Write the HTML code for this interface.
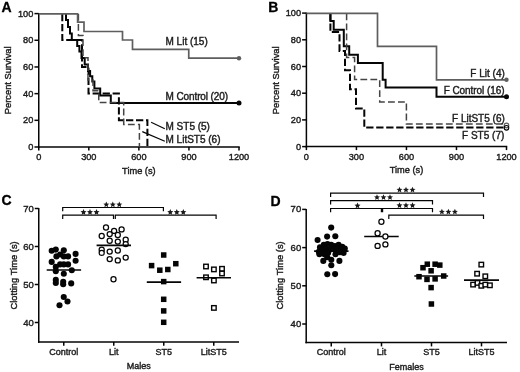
<!DOCTYPE html>
<html><head><meta charset="utf-8"><style>
html,body{margin:0;padding:0;background:#fff;width:520px;height:372px;overflow:hidden;}
svg{display:block;will-change:transform;font-family:"Liberation Sans",sans-serif;}
</style></head><body>
<svg width="520" height="372" viewBox="0 0 520 372" font-family="Liberation Sans, sans-serif">
<rect width="520" height="372" fill="#fff"/>
<line x1="38.75" y1="13.1" x2="38.75" y2="147.75" stroke="#050505" stroke-width="1.5"/>
<line x1="38.0" y1="147" x2="239.75" y2="147" stroke="#050505" stroke-width="1.5"/>
<line x1="34.45" y1="147.0" x2="38.75" y2="147.0" stroke="#050505" stroke-width="1.5"/>
<text x="33.35" y="150.1" font-size="9.2" text-anchor="end" font-weight="normal" fill="#1c1c1c" stroke="#1c1c1c" stroke-width="0.4" >0</text>
<line x1="34.45" y1="120.32" x2="38.75" y2="120.32" stroke="#050505" stroke-width="1.5"/>
<text x="33.35" y="123.41999999999999" font-size="9.2" text-anchor="end" font-weight="normal" fill="#1c1c1c" stroke="#1c1c1c" stroke-width="0.4" >20</text>
<line x1="34.45" y1="93.64" x2="38.75" y2="93.64" stroke="#050505" stroke-width="1.5"/>
<text x="33.35" y="96.74" font-size="9.2" text-anchor="end" font-weight="normal" fill="#1c1c1c" stroke="#1c1c1c" stroke-width="0.4" >40</text>
<line x1="34.45" y1="66.96" x2="38.75" y2="66.96" stroke="#050505" stroke-width="1.5"/>
<text x="33.35" y="70.05999999999999" font-size="9.2" text-anchor="end" font-weight="normal" fill="#1c1c1c" stroke="#1c1c1c" stroke-width="0.4" >60</text>
<line x1="34.45" y1="40.28" x2="38.75" y2="40.28" stroke="#050505" stroke-width="1.5"/>
<text x="33.35" y="43.38" font-size="9.2" text-anchor="end" font-weight="normal" fill="#1c1c1c" stroke="#1c1c1c" stroke-width="0.4" >80</text>
<line x1="34.45" y1="13.599999999999994" x2="38.75" y2="13.599999999999994" stroke="#050505" stroke-width="1.5"/>
<text x="33.35" y="16.699999999999996" font-size="9.2" text-anchor="end" font-weight="normal" fill="#1c1c1c" stroke="#1c1c1c" stroke-width="0.4" >100</text>
<line x1="38.75" y1="147" x2="38.75" y2="150.5" stroke="#050505" stroke-width="1.5"/>
<text x="38.75" y="160.1" font-size="9.2" text-anchor="middle" font-weight="normal" fill="#1c1c1c" stroke="#1c1c1c" stroke-width="0.4" >0</text>
<line x1="88.8125" y1="147" x2="88.8125" y2="150.5" stroke="#050505" stroke-width="1.5"/>
<text x="88.8125" y="160.1" font-size="9.2" text-anchor="middle" font-weight="normal" fill="#1c1c1c" stroke="#1c1c1c" stroke-width="0.4" >300</text>
<line x1="138.875" y1="147" x2="138.875" y2="150.5" stroke="#050505" stroke-width="1.5"/>
<text x="138.875" y="160.1" font-size="9.2" text-anchor="middle" font-weight="normal" fill="#1c1c1c" stroke="#1c1c1c" stroke-width="0.4" >600</text>
<line x1="188.9375" y1="147" x2="188.9375" y2="150.5" stroke="#050505" stroke-width="1.5"/>
<text x="188.9375" y="160.1" font-size="9.2" text-anchor="middle" font-weight="normal" fill="#1c1c1c" stroke="#1c1c1c" stroke-width="0.4" >900</text>
<line x1="239.0" y1="147" x2="239.0" y2="150.5" stroke="#050505" stroke-width="1.5"/>
<text x="239.0" y="160.1" font-size="9.2" text-anchor="middle" font-weight="normal" fill="#1c1c1c" stroke="#1c1c1c" stroke-width="0.4" >1200</text>
<text x="138.875" y="173.7" font-size="9.25" text-anchor="middle" font-weight="normal" fill="#1c1c1c" stroke="#1c1c1c" stroke-width="0.4" >Time (s)</text>
<text x="0" y="0" font-size="9.3" text-anchor="middle" fill="#1c1c1c" stroke="#1c1c1c" stroke-width="0.4" transform="translate(11.4,80.3) rotate(-90)">Percent Survival</text>
<text x="1.4" y="12.0" font-size="14" text-anchor="start" font-weight="bold" fill="#000" stroke="#000" stroke-width="0.3">A</text>
<path d="M66.00,13.90 L66.00,20.00 L68.00,20.00 L68.00,27.00 L70.00,27.00 L70.00,33.50 L71.80,33.50 L71.80,40.00 L77.20,40.00 L77.20,46.10 L79.40,46.10 L79.40,51.50 L81.50,51.50 L81.50,58.00 L84.70,58.00 L84.70,64.40 L88.00,64.40 L88.00,70.90 L90.10,70.90 L90.10,76.20 L92.30,76.20 L92.30,81.60 L94.40,81.60 L94.40,88.50 L100.20,88.50 L100.20,95.50 L110.80,95.50 L110.80,102.90 L239.00,102.90" fill="none" stroke="#050505" stroke-width="2.0" stroke-linejoin="miter" stroke-linecap="butt"/>
<path d="M62.30,13.90 L62.30,40.00 L82.00,40.00 L82.00,67.00 L88.50,67.00 L88.50,93.60 L118.90,93.60 L118.90,120.20 L147.40,120.20 L147.40,147.00" fill="none" stroke="#050505" stroke-width="2.0" stroke-dasharray="7.3,2.7" stroke-linejoin="miter" stroke-linecap="butt"/>
<path d="M78.40,13.90 L78.40,35.40 L83.00,35.40 L83.00,57.70 L88.00,57.70 L88.00,80.00 L93.00,80.00 L93.00,90.70 L98.75,90.70 L98.75,102.60 L123.70,102.60 L123.70,124.40 L139.40,124.40 L139.40,147.00" fill="none" stroke="#444" stroke-width="1.5" stroke-dasharray="6.8,3.2" stroke-linejoin="miter" stroke-linecap="butt"/>
<path d="M38.75,13.90 L77.60,13.90 L77.60,22.20 L84.00,22.20 L84.00,31.50 L122.50,31.50 L122.50,40.00 L132.50,40.00 L132.50,49.30 L188.75,49.30 L188.75,58.20 L239.00,58.20" fill="none" stroke="#5e5e5e" stroke-width="1.7" stroke-linejoin="miter" stroke-linecap="butt"/>
<circle cx="239" cy="58.2" r="2.2" fill="#5e5e5e"/>
<circle cx="239" cy="102.9" r="2.5" fill="#050505"/>
<text x="165.5" y="45" font-size="10" text-anchor="start" font-weight="normal" fill="#1c1c1c" stroke="#1c1c1c" stroke-width="0.4" >M Lit (15)</text>
<text x="165.5" y="99.5" font-size="10" text-anchor="start" font-weight="normal" fill="#1c1c1c" stroke="#1c1c1c" stroke-width="0.4" letter-spacing="-0.1">M Control (20)</text>
<text x="165.5" y="130.3" font-size="10" text-anchor="start" font-weight="normal" fill="#1c1c1c" stroke="#1c1c1c" stroke-width="0.4" >M ST5 (5)</text>
<text x="165.5" y="143.3" font-size="10" text-anchor="start" font-weight="normal" fill="#1c1c1c" stroke="#1c1c1c" stroke-width="0.4" >M LitST5 (6)</text>
<line x1="151.1" y1="122.3" x2="164.8" y2="128.7" stroke="#050505" stroke-width="1.2"/>
<line x1="142.3" y1="131.6" x2="164.8" y2="141.3" stroke="#050505" stroke-width="1.2"/>
<line x1="306.4" y1="12.6" x2="306.4" y2="147.35" stroke="#050505" stroke-width="1.5"/>
<line x1="305.65" y1="146.6" x2="507.25" y2="146.6" stroke="#050505" stroke-width="1.5"/>
<line x1="302.09999999999997" y1="146.6" x2="306.4" y2="146.6" stroke="#050505" stroke-width="1.5"/>
<text x="301.0" y="149.7" font-size="9.2" text-anchor="end" font-weight="normal" fill="#1c1c1c" stroke="#1c1c1c" stroke-width="0.4" >0</text>
<line x1="302.09999999999997" y1="119.89999999999999" x2="306.4" y2="119.89999999999999" stroke="#050505" stroke-width="1.5"/>
<text x="301.0" y="122.99999999999999" font-size="9.2" text-anchor="end" font-weight="normal" fill="#1c1c1c" stroke="#1c1c1c" stroke-width="0.4" >20</text>
<line x1="302.09999999999997" y1="93.19999999999999" x2="306.4" y2="93.19999999999999" stroke="#050505" stroke-width="1.5"/>
<text x="301.0" y="96.29999999999998" font-size="9.2" text-anchor="end" font-weight="normal" fill="#1c1c1c" stroke="#1c1c1c" stroke-width="0.4" >40</text>
<line x1="302.09999999999997" y1="66.5" x2="306.4" y2="66.5" stroke="#050505" stroke-width="1.5"/>
<text x="301.0" y="69.6" font-size="9.2" text-anchor="end" font-weight="normal" fill="#1c1c1c" stroke="#1c1c1c" stroke-width="0.4" >60</text>
<line x1="302.09999999999997" y1="39.8" x2="306.4" y2="39.8" stroke="#050505" stroke-width="1.5"/>
<text x="301.0" y="42.9" font-size="9.2" text-anchor="end" font-weight="normal" fill="#1c1c1c" stroke="#1c1c1c" stroke-width="0.4" >80</text>
<line x1="302.09999999999997" y1="13.099999999999994" x2="306.4" y2="13.099999999999994" stroke="#050505" stroke-width="1.5"/>
<text x="301.0" y="16.199999999999996" font-size="9.2" text-anchor="end" font-weight="normal" fill="#1c1c1c" stroke="#1c1c1c" stroke-width="0.4" >100</text>
<line x1="306.4" y1="146.6" x2="306.4" y2="150.1" stroke="#050505" stroke-width="1.5"/>
<text x="306.4" y="160.1" font-size="9.2" text-anchor="middle" font-weight="normal" fill="#1c1c1c" stroke="#1c1c1c" stroke-width="0.4" >0</text>
<line x1="356.42499999999995" y1="146.6" x2="356.42499999999995" y2="150.1" stroke="#050505" stroke-width="1.5"/>
<text x="356.42499999999995" y="160.1" font-size="9.2" text-anchor="middle" font-weight="normal" fill="#1c1c1c" stroke="#1c1c1c" stroke-width="0.4" >300</text>
<line x1="406.45" y1="146.6" x2="406.45" y2="150.1" stroke="#050505" stroke-width="1.5"/>
<text x="406.45" y="160.1" font-size="9.2" text-anchor="middle" font-weight="normal" fill="#1c1c1c" stroke="#1c1c1c" stroke-width="0.4" >600</text>
<line x1="456.475" y1="146.6" x2="456.475" y2="150.1" stroke="#050505" stroke-width="1.5"/>
<text x="456.475" y="160.1" font-size="9.2" text-anchor="middle" font-weight="normal" fill="#1c1c1c" stroke="#1c1c1c" stroke-width="0.4" >900</text>
<line x1="506.5" y1="146.6" x2="506.5" y2="150.1" stroke="#050505" stroke-width="1.5"/>
<text x="506.5" y="160.1" font-size="9.2" text-anchor="middle" font-weight="normal" fill="#1c1c1c" stroke="#1c1c1c" stroke-width="0.4" >1200</text>
<text x="406.45" y="173.29999999999998" font-size="9.25" text-anchor="middle" font-weight="normal" fill="#1c1c1c" stroke="#1c1c1c" stroke-width="0.4" >Time (s)</text>
<text x="0" y="0" font-size="9.3" text-anchor="middle" fill="#1c1c1c" stroke="#1c1c1c" stroke-width="0.4" transform="translate(278.7,80.3) rotate(-90)">Percent Survival</text>
<text x="268.3" y="12.2" font-size="14" text-anchor="start" font-weight="bold" fill="#000" stroke="#000" stroke-width="0.3">B</text>
<path d="M330.40,13.40 L330.40,21.00 L333.70,21.00 L333.70,29.70 L343.80,29.70 L343.80,46.30 L349.20,46.30 L349.20,54.70 L357.90,54.70 L357.90,63.00 L382.70,63.00 L382.70,79.70 L385.60,79.70 L385.60,87.60 L436.50,87.60 L436.50,96.70 L506.50,96.70" fill="none" stroke="#050505" stroke-width="2.0" stroke-linejoin="miter" stroke-linecap="butt"/>
<path d="M330.40,13.40 L330.40,32.00 L339.50,32.00 L339.50,51.00 L345.00,51.00 L345.00,70.20 L350.00,70.20 L350.00,89.30 L356.00,89.30 L356.00,108.40 L364.30,108.40 L364.30,127.60 L506.50,127.60" fill="none" stroke="#050505" stroke-width="2.0" stroke-dasharray="7.3,2.7" stroke-linejoin="miter" stroke-linecap="butt"/>
<path d="M346.60,13.40 L346.60,57.50 L354.60,57.50 L354.60,79.60 L379.70,79.60 L379.70,102.00 L406.40,102.00 L406.40,124.10 L506.50,124.10" fill="none" stroke="#444" stroke-width="1.5" stroke-dasharray="6.8,3.2" stroke-linejoin="miter" stroke-linecap="butt"/>
<path d="M306.40,13.40 L377.50,13.40 L377.50,46.30 L436.50,46.30 L436.50,79.80 L506.50,79.80" fill="none" stroke="#5e5e5e" stroke-width="1.7" stroke-linejoin="miter" stroke-linecap="butt"/>
<circle cx="506.5" cy="79.8" r="2.2" fill="#5e5e5e"/>
<circle cx="506.5" cy="96.7" r="2.5" fill="#050505"/>
<circle cx="506.5" cy="125.4" r="2.3" fill="#fff" stroke="#5e5e5e" stroke-width="1.1"/>
<circle cx="506.5" cy="127.8" r="2.3" fill="none" stroke="#050505" stroke-width="1.1"/>
<text x="504.8" y="76.6" font-size="10" text-anchor="end" font-weight="normal" fill="#1c1c1c" stroke="#1c1c1c" stroke-width="0.4" >F Lit (4)</text>
<text x="504.5" y="93.9" font-size="10" text-anchor="end" font-weight="normal" fill="#1c1c1c" stroke="#1c1c1c" stroke-width="0.4" letter-spacing="-0.06">F Control (16)</text>
<text x="504.8" y="121.8" font-size="10" text-anchor="end" font-weight="normal" fill="#1c1c1c" stroke="#1c1c1c" stroke-width="0.4" >F LitST5 (6)</text>
<text x="504.3" y="139.4" font-size="10" text-anchor="end" font-weight="normal" fill="#1c1c1c" stroke="#1c1c1c" stroke-width="0.4" >F ST5 (7)</text>
<line x1="38.75" y1="208.0" x2="38.75" y2="342.65" stroke="#050505" stroke-width="1.5"/>
<line x1="38.0" y1="341.9" x2="239" y2="341.9" stroke="#050505" stroke-width="1.5"/>
<line x1="34.75" y1="322.5" x2="38.75" y2="322.5" stroke="#050505" stroke-width="1.5"/>
<text x="33.75" y="325.5" font-size="9.5" text-anchor="end" font-weight="normal" fill="#1c1c1c" stroke="#1c1c1c" stroke-width="0.4" >40</text>
<line x1="34.75" y1="284.5" x2="38.75" y2="284.5" stroke="#050505" stroke-width="1.5"/>
<text x="33.75" y="287.5" font-size="9.5" text-anchor="end" font-weight="normal" fill="#1c1c1c" stroke="#1c1c1c" stroke-width="0.4" >50</text>
<line x1="34.75" y1="246.5" x2="38.75" y2="246.5" stroke="#050505" stroke-width="1.5"/>
<text x="33.75" y="249.5" font-size="9.5" text-anchor="end" font-weight="normal" fill="#1c1c1c" stroke="#1c1c1c" stroke-width="0.4" >60</text>
<line x1="34.75" y1="208.5" x2="38.75" y2="208.5" stroke="#050505" stroke-width="1.5"/>
<text x="33.75" y="211.5" font-size="9.5" text-anchor="end" font-weight="normal" fill="#1c1c1c" stroke="#1c1c1c" stroke-width="0.4" >70</text>
<line x1="63.75" y1="341.9" x2="63.75" y2="345.79999999999995" stroke="#050505" stroke-width="1.5"/>
<text x="63.75" y="354.59999999999997" font-size="9" text-anchor="middle" font-weight="normal" fill="#1c1c1c" stroke="#1c1c1c" stroke-width="0.4" >Control</text>
<line x1="113.75" y1="341.9" x2="113.75" y2="345.79999999999995" stroke="#050505" stroke-width="1.5"/>
<text x="113.75" y="354.59999999999997" font-size="9" text-anchor="middle" font-weight="normal" fill="#1c1c1c" stroke="#1c1c1c" stroke-width="0.4" >Lit</text>
<line x1="163.75" y1="341.9" x2="163.75" y2="345.79999999999995" stroke="#050505" stroke-width="1.5"/>
<text x="163.75" y="354.59999999999997" font-size="9" text-anchor="middle" font-weight="normal" fill="#1c1c1c" stroke="#1c1c1c" stroke-width="0.4" >ST5</text>
<line x1="213.75" y1="341.9" x2="213.75" y2="345.79999999999995" stroke="#050505" stroke-width="1.5"/>
<text x="213.75" y="354.59999999999997" font-size="9" text-anchor="middle" font-weight="normal" fill="#1c1c1c" stroke="#1c1c1c" stroke-width="0.4" >LitST5</text>
<text x="138.875" y="369.09999999999997" font-size="9" text-anchor="middle" font-weight="normal" fill="#1c1c1c" stroke="#1c1c1c" stroke-width="0.4" >Males</text>
<text x="0" y="0" font-size="9.4" text-anchor="middle" fill="#1c1c1c" stroke="#1c1c1c" stroke-width="0.4" transform="translate(16.5,275.4) rotate(-90)">Clotting Time (s)</text>
<text x="1.6" y="204.9" font-size="14" text-anchor="start" font-weight="bold" fill="#000" stroke="#000" stroke-width="0.3">C</text>
<path d="M62.7,211.3 L62.7,207.5 L163.4,207.5 L163.4,211.3" fill="none" stroke="#050505" stroke-width="1.2"/>
<path d="M62.7,219.0 L62.7,215.2 L113.5,215.2 L113.5,219.0" fill="none" stroke="#050505" stroke-width="1.2"/>
<path d="M115.3,218.9 L115.3,215.1 L216.1,215.1 L216.1,218.9" fill="none" stroke="#050505" stroke-width="1.2"/>
<polygon points="106.30,201.45 107.15,203.43 109.30,203.63 107.68,205.05 108.15,207.15 106.30,206.05 104.45,207.15 104.92,205.05 103.30,203.63 105.45,203.43" fill="#1a1a1a"/>
<polygon points="112.80,201.45 113.65,203.43 115.80,203.63 114.18,205.05 114.65,207.15 112.80,206.05 110.95,207.15 111.42,205.05 109.80,203.63 111.95,203.43" fill="#1a1a1a"/>
<polygon points="119.30,201.45 120.15,203.43 122.30,203.63 120.68,205.05 121.15,207.15 119.30,206.05 117.45,207.15 117.92,205.05 116.30,203.63 118.45,203.43" fill="#1a1a1a"/>
<polygon points="83.50,209.05 84.35,211.03 86.50,211.23 84.88,212.65 85.35,214.75 83.50,213.65 81.65,214.75 82.12,212.65 80.50,211.23 82.65,211.03" fill="#1a1a1a"/>
<polygon points="90.00,209.05 90.85,211.03 93.00,211.23 91.38,212.65 91.85,214.75 90.00,213.65 88.15,214.75 88.62,212.65 87.00,211.23 89.15,211.03" fill="#1a1a1a"/>
<polygon points="96.50,209.05 97.35,211.03 99.50,211.23 97.88,212.65 98.35,214.75 96.50,213.65 94.65,214.75 95.12,212.65 93.50,211.23 95.65,211.03" fill="#1a1a1a"/>
<polygon points="170.30,209.05 171.15,211.03 173.30,211.23 171.68,212.65 172.15,214.75 170.30,213.65 168.45,214.75 168.92,212.65 167.30,211.23 169.45,211.03" fill="#1a1a1a"/>
<polygon points="176.80,209.05 177.65,211.03 179.80,211.23 178.18,212.65 178.65,214.75 176.80,213.65 174.95,214.75 175.42,212.65 173.80,211.23 175.95,211.03" fill="#1a1a1a"/>
<polygon points="183.30,209.05 184.15,211.03 186.30,211.23 184.68,212.65 185.15,214.75 183.30,213.65 181.45,214.75 181.92,212.65 180.30,211.23 182.45,211.03" fill="#1a1a1a"/>
<line x1="46.7" y1="270" x2="81.1" y2="270" stroke="#050505" stroke-width="1.6"/>
<circle cx="51.7" cy="250.8" r="3.05" fill="#050505"/>
<circle cx="55.8" cy="249.6" r="3.05" fill="#050505"/>
<circle cx="63.8" cy="250.2" r="3.05" fill="#050505"/>
<circle cx="75.6" cy="253.9" r="3.05" fill="#050505"/>
<circle cx="56.4" cy="256.4" r="3.05" fill="#050505"/>
<circle cx="60.1" cy="254.5" r="3.05" fill="#050505"/>
<circle cx="63.8" cy="256.4" r="3.05" fill="#050505"/>
<circle cx="68.1" cy="256.4" r="3.05" fill="#050505"/>
<circle cx="75.6" cy="260.7" r="3.05" fill="#050505"/>
<circle cx="51.7" cy="261.9" r="3.05" fill="#050505"/>
<circle cx="60.1" cy="264.4" r="3.05" fill="#050505"/>
<circle cx="63.8" cy="264.4" r="3.05" fill="#050505"/>
<circle cx="68.1" cy="264.4" r="3.05" fill="#050505"/>
<circle cx="55.8" cy="266.9" r="3.05" fill="#050505"/>
<circle cx="55.8" cy="271.2" r="3.05" fill="#050505"/>
<circle cx="63.8" cy="273.7" r="3.05" fill="#050505"/>
<circle cx="71.8" cy="270.2" r="3.05" fill="#050505"/>
<circle cx="55.8" cy="279.9" r="3.05" fill="#050505"/>
<circle cx="55.8" cy="283" r="3.05" fill="#050505"/>
<circle cx="63.2" cy="281.7" r="3.05" fill="#050505"/>
<circle cx="63.2" cy="284.2" r="3.05" fill="#050505"/>
<circle cx="71.2" cy="283.4" r="3.05" fill="#050505"/>
<circle cx="63.75" cy="297" r="3.05" fill="#050505"/>
<circle cx="67.5" cy="301.5" r="3.05" fill="#050505"/>
<circle cx="59.5" cy="305.25" r="3.05" fill="#050505"/>
<circle cx="106" cy="227.5" r="2.55" fill="#fff" stroke="#050505" stroke-width="1.25"/>
<circle cx="114.1" cy="230.9" r="2.55" fill="#fff" stroke="#050505" stroke-width="1.25"/>
<circle cx="121.6" cy="229.4" r="2.55" fill="#fff" stroke="#050505" stroke-width="1.25"/>
<circle cx="101.7" cy="236" r="2.55" fill="#fff" stroke="#050505" stroke-width="1.25"/>
<circle cx="109.7" cy="234.1" r="2.55" fill="#fff" stroke="#050505" stroke-width="1.25"/>
<circle cx="117.8" cy="235" r="2.55" fill="#fff" stroke="#050505" stroke-width="1.25"/>
<circle cx="109.7" cy="240.7" r="2.55" fill="#fff" stroke="#050505" stroke-width="1.25"/>
<circle cx="117.8" cy="241.6" r="2.55" fill="#fff" stroke="#050505" stroke-width="1.25"/>
<circle cx="125.7" cy="239.7" r="2.55" fill="#fff" stroke="#050505" stroke-width="1.25"/>
<circle cx="125.7" cy="244.1" r="2.55" fill="#fff" stroke="#050505" stroke-width="1.25"/>
<circle cx="101.7" cy="249.7" r="2.55" fill="#fff" stroke="#050505" stroke-width="1.25"/>
<circle cx="101.7" cy="252.9" r="2.55" fill="#fff" stroke="#050505" stroke-width="1.25"/>
<circle cx="109.7" cy="251.6" r="2.55" fill="#fff" stroke="#050505" stroke-width="1.25"/>
<circle cx="117.8" cy="250.5" r="2.55" fill="#fff" stroke="#050505" stroke-width="1.25"/>
<circle cx="109.7" cy="259.1" r="2.55" fill="#fff" stroke="#050505" stroke-width="1.25"/>
<circle cx="117.8" cy="260.4" r="2.55" fill="#fff" stroke="#050505" stroke-width="1.25"/>
<circle cx="125.7" cy="257.6" r="2.55" fill="#fff" stroke="#050505" stroke-width="1.25"/>
<circle cx="113.5" cy="279.2" r="2.55" fill="#fff" stroke="#050505" stroke-width="1.25"/>
<line x1="96.6" y1="245.4" x2="131" y2="245.4" stroke="#050505" stroke-width="1.6"/>
<rect x="160.95" y="252.25" width="5.5" height="5.5" fill="#050505"/>
<rect x="148.85" y="262.85" width="5.5" height="5.5" fill="#050505"/>
<rect x="173.05" y="260.95" width="5.5" height="5.5" fill="#050505"/>
<rect x="157.05" y="267.45" width="5.5" height="5.5" fill="#050505"/>
<rect x="165.05" y="266.75" width="5.5" height="5.5" fill="#050505"/>
<rect x="160.95" y="278.85" width="5.5" height="5.5" fill="#050505"/>
<rect x="160.95" y="296.55" width="5.5" height="5.5" fill="#050505"/>
<rect x="160.95" y="308.15" width="5.5" height="5.5" fill="#050505"/>
<rect x="160.95" y="319.55" width="5.5" height="5.5" fill="#050505"/>
<line x1="146.8" y1="282.1" x2="181.1" y2="282.1" stroke="#050505" stroke-width="1.6"/>
<rect x="203.75" y="264.25" width="4.5" height="4.5" fill="#fff" stroke="#050505" stroke-width="1.4"/>
<rect x="211.65" y="267.15" width="4.5" height="4.5" fill="#fff" stroke="#050505" stroke-width="1.4"/>
<rect x="219.75" y="266.55" width="4.5" height="4.5" fill="#fff" stroke="#050505" stroke-width="1.4"/>
<rect x="219.75" y="271.25" width="4.5" height="4.5" fill="#fff" stroke="#050505" stroke-width="1.4"/>
<rect x="203.75" y="275.05" width="4.5" height="4.5" fill="#fff" stroke="#050505" stroke-width="1.4"/>
<rect x="211.65" y="278.25" width="4.5" height="4.5" fill="#fff" stroke="#050505" stroke-width="1.4"/>
<rect x="211.65" y="305.65" width="4.5" height="4.5" fill="#fff" stroke="#050505" stroke-width="1.4"/>
<line x1="196.6" y1="277.8" x2="231" y2="277.8" stroke="#050505" stroke-width="1.6"/>
<line x1="306.2" y1="208.9" x2="306.2" y2="343.25" stroke="#050505" stroke-width="1.5"/>
<line x1="305.45" y1="342.5" x2="507" y2="342.5" stroke="#050505" stroke-width="1.5"/>
<line x1="302.2" y1="324.0" x2="306.2" y2="324.0" stroke="#050505" stroke-width="1.5"/>
<text x="301.2" y="327.0" font-size="9.5" text-anchor="end" font-weight="normal" fill="#1c1c1c" stroke="#1c1c1c" stroke-width="0.4" >40</text>
<line x1="302.2" y1="285.8" x2="306.2" y2="285.8" stroke="#050505" stroke-width="1.5"/>
<text x="301.2" y="288.8" font-size="9.5" text-anchor="end" font-weight="normal" fill="#1c1c1c" stroke="#1c1c1c" stroke-width="0.4" >50</text>
<line x1="302.2" y1="247.6" x2="306.2" y2="247.6" stroke="#050505" stroke-width="1.5"/>
<text x="301.2" y="250.6" font-size="9.5" text-anchor="end" font-weight="normal" fill="#1c1c1c" stroke="#1c1c1c" stroke-width="0.4" >60</text>
<line x1="302.2" y1="209.4" x2="306.2" y2="209.4" stroke="#050505" stroke-width="1.5"/>
<text x="301.2" y="212.4" font-size="9.5" text-anchor="end" font-weight="normal" fill="#1c1c1c" stroke="#1c1c1c" stroke-width="0.4" >70</text>
<line x1="331.25" y1="342.5" x2="331.25" y2="346.4" stroke="#050505" stroke-width="1.5"/>
<text x="331.25" y="355.2" font-size="9" text-anchor="middle" font-weight="normal" fill="#1c1c1c" stroke="#1c1c1c" stroke-width="0.4" >Control</text>
<line x1="381.5" y1="342.5" x2="381.5" y2="346.4" stroke="#050505" stroke-width="1.5"/>
<text x="381.5" y="355.2" font-size="9" text-anchor="middle" font-weight="normal" fill="#1c1c1c" stroke="#1c1c1c" stroke-width="0.4" >Lit</text>
<line x1="431.5" y1="342.5" x2="431.5" y2="346.4" stroke="#050505" stroke-width="1.5"/>
<text x="431.5" y="355.2" font-size="9" text-anchor="middle" font-weight="normal" fill="#1c1c1c" stroke="#1c1c1c" stroke-width="0.4" >ST5</text>
<line x1="481.5" y1="342.5" x2="481.5" y2="346.4" stroke="#050505" stroke-width="1.5"/>
<text x="481.5" y="355.2" font-size="9" text-anchor="middle" font-weight="normal" fill="#1c1c1c" stroke="#1c1c1c" stroke-width="0.4" >LitST5</text>
<text x="406.6" y="369.7" font-size="9" text-anchor="middle" font-weight="normal" fill="#1c1c1c" stroke="#1c1c1c" stroke-width="0.4" >Females</text>
<text x="0" y="0" font-size="9.4" text-anchor="middle" fill="#1c1c1c" stroke="#1c1c1c" stroke-width="0.4" transform="translate(283.2,275.4) rotate(-90)">Clotting Time (s)</text>
<text x="270.6" y="205.5" font-size="14" text-anchor="start" font-weight="bold" fill="#000" stroke="#000" stroke-width="0.3">D</text>
<path d="M330.6,197.0 L330.6,193.2 L483.5,193.2 L483.5,197.0" fill="none" stroke="#050505" stroke-width="1.2"/>
<path d="M330.6,204.4 L330.6,200.6 L432.5,200.6 L432.5,204.4" fill="none" stroke="#050505" stroke-width="1.2"/>
<path d="M330.6,212.3 L330.6,208.5 L381.4,208.5 L381.4,212.3" fill="none" stroke="#050505" stroke-width="1.2"/>
<path d="M382.6,212.3 L382.6,208.5 L432.5,208.5 L432.5,212.3" fill="none" stroke="#050505" stroke-width="1.2"/>
<path d="M388.8,219.0 L388.8,215.2 L483.5,215.2 L483.5,219.0" fill="none" stroke="#050505" stroke-width="1.2"/>
<polygon points="399.50,186.75 400.35,188.73 402.50,188.93 400.88,190.35 401.35,192.45 399.50,191.35 397.65,192.45 398.12,190.35 396.50,188.93 398.65,188.73" fill="#1a1a1a"/>
<polygon points="406.00,186.75 406.85,188.73 409.00,188.93 407.38,190.35 407.85,192.45 406.00,191.35 404.15,192.45 404.62,190.35 403.00,188.93 405.15,188.73" fill="#1a1a1a"/>
<polygon points="412.50,186.75 413.35,188.73 415.50,188.93 413.88,190.35 414.35,192.45 412.50,191.35 410.65,192.45 411.12,190.35 409.50,188.93 411.65,188.73" fill="#1a1a1a"/>
<polygon points="377.00,194.25 377.85,196.23 380.00,196.43 378.38,197.85 378.85,199.95 377.00,198.85 375.15,199.95 375.62,197.85 374.00,196.43 376.15,196.23" fill="#1a1a1a"/>
<polygon points="383.50,194.25 384.35,196.23 386.50,196.43 384.88,197.85 385.35,199.95 383.50,198.85 381.65,199.95 382.12,197.85 380.50,196.43 382.65,196.23" fill="#1a1a1a"/>
<polygon points="390.00,194.25 390.85,196.23 393.00,196.43 391.38,197.85 391.85,199.95 390.00,198.85 388.15,199.95 388.62,197.85 387.00,196.43 389.15,196.23" fill="#1a1a1a"/>
<polygon points="357.50,202.55 358.35,204.53 360.50,204.73 358.88,206.15 359.35,208.25 357.50,207.15 355.65,208.25 356.12,206.15 354.50,204.73 356.65,204.53" fill="#1a1a1a"/>
<polygon points="399.50,202.35 400.35,204.33 402.50,204.53 400.88,205.95 401.35,208.05 399.50,206.95 397.65,208.05 398.12,205.95 396.50,204.53 398.65,204.33" fill="#1a1a1a"/>
<polygon points="406.00,202.35 406.85,204.33 409.00,204.53 407.38,205.95 407.85,208.05 406.00,206.95 404.15,208.05 404.62,205.95 403.00,204.53 405.15,204.33" fill="#1a1a1a"/>
<polygon points="412.50,202.35 413.35,204.33 415.50,204.53 413.88,205.95 414.35,208.05 412.50,206.95 410.65,208.05 411.12,205.95 409.50,204.53 411.65,204.33" fill="#1a1a1a"/>
<polygon points="441.90,208.75 442.75,210.73 444.90,210.93 443.28,212.35 443.75,214.45 441.90,213.35 440.05,214.45 440.52,212.35 438.90,210.93 441.05,210.73" fill="#1a1a1a"/>
<polygon points="448.40,208.75 449.25,210.73 451.40,210.93 449.78,212.35 450.25,214.45 448.40,213.35 446.55,214.45 447.02,212.35 445.40,210.93 447.55,210.73" fill="#1a1a1a"/>
<polygon points="454.90,208.75 455.75,210.73 457.90,210.93 456.28,212.35 456.75,214.45 454.90,213.35 453.05,214.45 453.52,212.35 451.90,210.93 454.05,210.73" fill="#1a1a1a"/>
<line x1="314.1" y1="251.1" x2="348.5" y2="251.1" stroke="#050505" stroke-width="1.6"/>
<circle cx="331.2" cy="227.6" r="3.05" fill="#050505"/>
<circle cx="327.1" cy="236.6" r="3.05" fill="#050505"/>
<circle cx="335.3" cy="236.2" r="3.05" fill="#050505"/>
<circle cx="317.6" cy="240" r="3.05" fill="#050505"/>
<circle cx="320" cy="247.4" r="3.05" fill="#050505"/>
<circle cx="323.8" cy="244.9" r="3.05" fill="#050505"/>
<circle cx="327.5" cy="244" r="3.05" fill="#050505"/>
<circle cx="331.2" cy="244.9" r="3.05" fill="#050505"/>
<circle cx="334.9" cy="246.1" r="3.05" fill="#050505"/>
<circle cx="338.6" cy="244.9" r="3.05" fill="#050505"/>
<circle cx="342.3" cy="246.8" r="3.05" fill="#050505"/>
<circle cx="344.8" cy="248.6" r="3.05" fill="#050505"/>
<circle cx="318.8" cy="251.7" r="3.05" fill="#050505"/>
<circle cx="322.5" cy="249.8" r="3.05" fill="#050505"/>
<circle cx="326.2" cy="248.6" r="3.05" fill="#050505"/>
<circle cx="329.9" cy="249.8" r="3.05" fill="#050505"/>
<circle cx="333.7" cy="249.2" r="3.05" fill="#050505"/>
<circle cx="337.4" cy="248.6" r="3.05" fill="#050505"/>
<circle cx="341.1" cy="249.8" r="3.05" fill="#050505"/>
<circle cx="343.6" cy="252.9" r="3.05" fill="#050505"/>
<circle cx="319.4" cy="254.2" r="3.05" fill="#050505"/>
<circle cx="324.4" cy="254.2" r="3.05" fill="#050505"/>
<circle cx="328.1" cy="252.9" r="3.05" fill="#050505"/>
<circle cx="335.5" cy="254.2" r="3.05" fill="#050505"/>
<circle cx="339.8" cy="252.3" r="3.05" fill="#050505"/>
<circle cx="327.3" cy="257.3" r="3.05" fill="#050505"/>
<circle cx="323.3" cy="260.9" r="3.05" fill="#050505"/>
<circle cx="331.3" cy="259.7" r="3.05" fill="#050505"/>
<circle cx="339.4" cy="260.9" r="3.05" fill="#050505"/>
<circle cx="331.3" cy="265.3" r="3.05" fill="#050505"/>
<circle cx="327.3" cy="274.2" r="3.05" fill="#050505"/>
<circle cx="335.1" cy="274.1" r="3.05" fill="#050505"/>
<line x1="364.2" y1="236.5" x2="398.7" y2="236.5" stroke="#050505" stroke-width="1.6"/>
<circle cx="381.4" cy="221.7" r="2.55" fill="#fff" stroke="#050505" stroke-width="1.25"/>
<circle cx="377.6" cy="233.2" r="2.55" fill="#fff" stroke="#050505" stroke-width="1.25"/>
<circle cx="385.4" cy="236.5" r="2.55" fill="#fff" stroke="#050505" stroke-width="1.25"/>
<circle cx="377.6" cy="245.9" r="2.55" fill="#fff" stroke="#050505" stroke-width="1.25"/>
<circle cx="385.4" cy="244.4" r="2.55" fill="#fff" stroke="#050505" stroke-width="1.25"/>
<line x1="414.3" y1="276" x2="448.1" y2="276" stroke="#050505" stroke-width="1.6"/>
<rect x="424.55" y="261.45" width="5.5" height="5.5" fill="#050505"/>
<rect x="432.35" y="261.45" width="5.5" height="5.5" fill="#050505"/>
<rect x="437.05" y="262.35" width="5.5" height="5.5" fill="#050505"/>
<rect x="420.25" y="264.95" width="5.5" height="5.5" fill="#050505"/>
<rect x="428.35" y="268.05" width="5.5" height="5.5" fill="#050505"/>
<rect x="416.25" y="273.95" width="5.5" height="5.5" fill="#050505"/>
<rect x="424.25" y="276.65" width="5.5" height="5.5" fill="#050505"/>
<rect x="432.35" y="276.15" width="5.5" height="5.5" fill="#050505"/>
<rect x="440.95" y="273.25" width="5.5" height="5.5" fill="#050505"/>
<rect x="428.35" y="284.85" width="5.5" height="5.5" fill="#050505"/>
<rect x="428.65" y="301.25" width="5.5" height="5.5" fill="#050505"/>
<rect x="479.05" y="262.35" width="4.5" height="4.5" fill="#fff" stroke="#050505" stroke-width="1.4"/>
<rect x="474.85" y="271.45" width="4.5" height="4.5" fill="#fff" stroke="#050505" stroke-width="1.4"/>
<rect x="483.05" y="274.05" width="4.5" height="4.5" fill="#fff" stroke="#050505" stroke-width="1.4"/>
<rect x="470.85" y="282.35" width="4.5" height="4.5" fill="#fff" stroke="#050505" stroke-width="1.4"/>
<rect x="475.25" y="280.65" width="4.5" height="4.5" fill="#fff" stroke="#050505" stroke-width="1.4"/>
<rect x="479.05" y="283.55" width="4.5" height="4.5" fill="#fff" stroke="#050505" stroke-width="1.4"/>
<rect x="483.05" y="282.35" width="4.5" height="4.5" fill="#fff" stroke="#050505" stroke-width="1.4"/>
<rect x="487.65" y="283.05" width="4.5" height="4.5" fill="#fff" stroke="#050505" stroke-width="1.4"/>
<line x1="464" y1="280.1" x2="499" y2="280.1" stroke="#050505" stroke-width="1.6"/>
</svg>
</body></html>
